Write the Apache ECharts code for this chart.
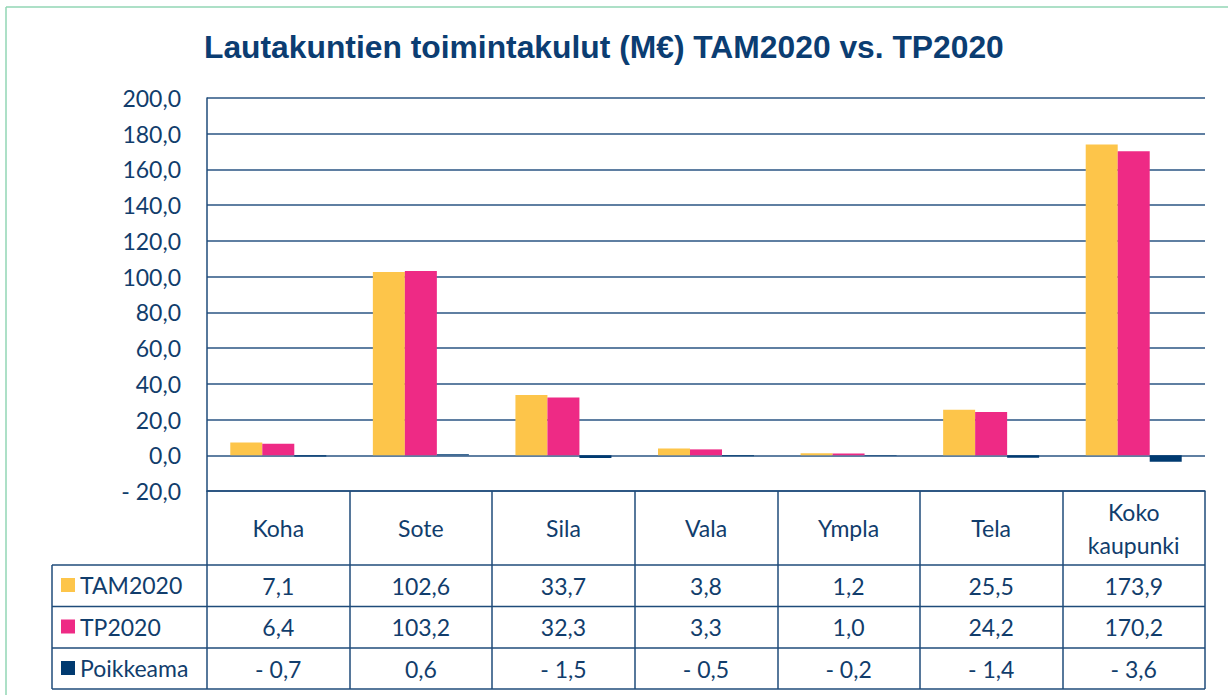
<!DOCTYPE html>
<html>
<head>
<meta charset="utf-8">
<script src="https://cdn.jsdelivr.net/npm/echarts@6/dist/echarts.min.js"></script>
<style>
html,body{margin:0;padding:0;background:#fff;}
#c{width:1228px;height:695px;}
</style>
</head>
<body>
<div id="c"></div>
<script>
// ---- data ----
var categories = ['Koha', 'Sote', 'Sila', 'Vala', 'Ympla', 'Tela', 'Koko\nkaupunki'];
var seriesNames = ['TAM2020', 'TP2020', 'Poikkeama'];
var tam2020 = [7.1, 102.6, 33.7, 3.8, 1.2, 25.5, 173.9];
var tp2020 = [6.4, 103.2, 32.3, 3.3, 1.0, 24.2, 170.2];
var poikkeama = [-0.7, 0.6, -1.5, -0.5, -0.2, -1.4, -3.6];
var yTicks = { min: -20, max: 200, interval: 20 };
var titleText = 'Lautakuntien toimintakulut (M€) TAM2020 vs. TP2020';

// ---- style ----
var NAVY = '#1F4B7A';
var TEXT = '#113D6C';
var FONT = 'Lato';
var colors = ['#FDC54A', '#EE2A85', '#003A70'];

function fmt(v) {
  var s = Math.abs(v).toFixed(1).replace('.', ',');
  return v < 0 ? '- ' + s : s;
}

var gridLeft = 207, gridTop = 98, gridRightX = 1205, axisBottom = 491;
var tableLeft = 52, rowLines = [565, 606.5, 648, 689];

var chart = echarts.init(document.getElementById('c'), null, { renderer: 'svg' });

var dataRows = [tam2020, tp2020, poikkeama];
var rowMargins = [94.5, 136, 177.5];

var xAxes = [{
  type: 'category',
  data: categories,
  position: 'bottom',
  axisLine: { show: true, onZero: false, lineStyle: { color: NAVY, width: 1.5 } },
  axisTick: { show: true, interval: 0, alignWithLabel: false, inside: false, length: 198, lineStyle: { color: NAVY, width: 1.5 } },
  axisLabel: { interval: 0, margin: 37, verticalAlign: 'middle', lineHeight: 33, fontSize: 23, fontFamily: FONT, color: TEXT },
  splitLine: { show: false }
}];
dataRows.forEach(function (row, r) {
  xAxes.push({
    type: 'category',
    data: categories,
    position: 'bottom',
    axisLine: { show: false, onZero: false },
    axisTick: { show: false },
    splitLine: { show: false },
    axisLabel: {
      interval: 0, margin: rowMargins[r], verticalAlign: 'middle', fontSize: 23, fontFamily: FONT, color: TEXT,
      formatter: (function (rowArr) { return function (v, i) { return fmt(rowArr[i]); }; })(row)
    }
  });
});

var graphics = [
  { type: 'line', shape: { x1: 6, y1: 7, x2: 1228, y2: 7 }, style: { stroke: '#92D6B4', lineWidth: 1.5 } },
  { type: 'line', shape: { x1: 6, y1: 7, x2: 6, y2: 695 }, style: { stroke: '#92D6B4', lineWidth: 1.5 } },
  { type: 'line', shape: { x1: tableLeft, y1: rowLines[0], x2: tableLeft, y2: rowLines[3] }, style: { stroke: NAVY, lineWidth: 1.5 } }
];
rowLines.forEach(function (y) {
  graphics.push({ type: 'line', shape: { x1: tableLeft, y1: y, x2: gridRightX, y2: y }, style: { stroke: NAVY, lineWidth: 1.5 } });
});

chart.setOption({
  animation: false,
  backgroundColor: '#fff',
  color: colors,
  title: {
    text: titleText,
    left: 199,
    top: 26,
    textStyle: { fontFamily: 'Liberation Sans', fontWeight: 'bold', fontSize: 31.8, color: '#0B3D72' }
  },
  legend: {
    data: seriesNames,
    orient: 'vertical',
    left: 61,
    top: 573,
    padding: 0,
    icon: 'rect',
    itemWidth: 14,
    itemHeight: 14,
    itemGap: 17.5,
    selectedMode: false,
    textStyle: { fontSize: 23, fontFamily: FONT, color: TEXT, lineHeight: 24 }
  },
  grid: { left: gridLeft, top: gridTop, right: 1228 - gridRightX, height: axisBottom - gridTop, containLabel: false },
  xAxis: xAxes,
  yAxis: {
    type: 'value',
    min: yTicks.min, max: yTicks.max, interval: yTicks.interval,
    axisLine: { show: true, lineStyle: { color: NAVY, width: 1.5 } },
    axisTick: { show: false },
    axisLabel: { margin: 26, fontSize: 23, fontFamily: FONT, color: TEXT, formatter: function (v) { return fmt(v); } },
    splitLine: { show: true, lineStyle: { color: '#2A5483', width: 1.5 } }
  },
  series: [
    { name: seriesNames[0], type: 'bar', xAxisIndex: 0, data: tam2020, barWidth: 32, barGap: '0%' },
    { name: seriesNames[1], type: 'bar', xAxisIndex: 0, data: tp2020, barWidth: 32, barGap: '0%' },
    { name: seriesNames[2], type: 'bar', xAxisIndex: 0, data: poikkeama, barWidth: 32, barGap: '0%' }
  ],
  graphic: graphics
});
</script>
</body>
</html>
